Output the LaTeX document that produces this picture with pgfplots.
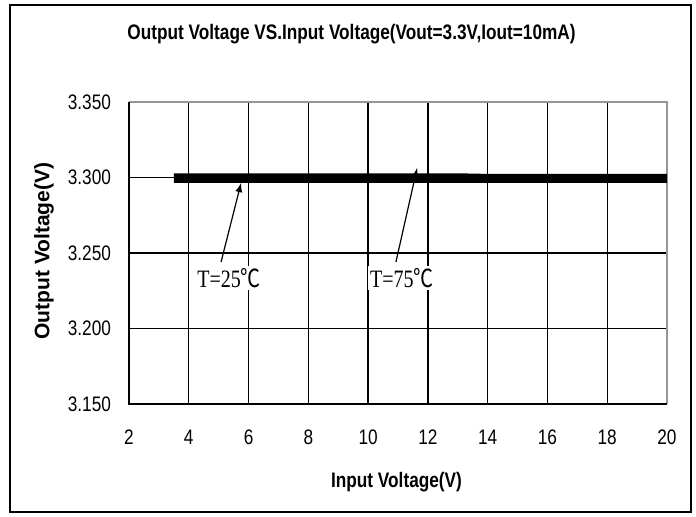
\documentclass[border=0pt]{standalone}
\usepackage{fontspec}
\setmainfont{Liberation Sans}
\newfontfamily\narrow[FakeStretch=0.82]{Liberation Sans}
\newfontfamily\serifl[FakeStretch=0.8]{Liberation Serif}
\newfontfamily\cjk[FakeStretch=0.8]{Noto Sans CJK SC}
\usepackage{pgfplots}
\pgfplotsset{compat=1.18}
\definecolor{bordergray}{RGB}{150,150,150}
\begin{document}
\begin{tikzpicture}[x=1pt,y=1pt]
\useasboundingbox (-64.5,-56.5) rectangle (283.5,202);
\draw[line width=1pt] (-59.5,-54) rectangle (281,199.5);
\begin{axis}[
  at={(0,0)}, anchor=origin,
  scale only axis, width=269pt, height=151pt,
  xmin=2, xmax=20, ymin=3.15, ymax=3.35,
  xtick={2,4,...,20}, ytick={3.15,3.2,3.25,3.3,3.35},
  y tick label style={/pgf/number format/fixed,/pgf/number format/fixed zerofill,/pgf/number format/precision=3, xshift=-5.5pt},
  /pgf/number format/assume math mode=true,
  ticklabel style={font=\narrow\fontsize{10.5}{11}\selectfont},
  x tick label style={yshift=-9.5pt},
  major tick length=0pt,
  grid=major, major grid style={black, line width=0.7pt},
  axis line style={draw=none},
  clip=false,
]
\draw[bordergray, line width=1.2pt] (axis cs:2,3.35) -- (axis cs:20,3.35) -- (axis cs:20,3.15);
\draw[black, line width=1pt] (axis cs:2,3.35) -- (axis cs:2,3.15) -- (axis cs:20,3.15);
\addplot[black, line width=4.5pt, line cap=butt] coordinates {(3.5,3.2994) (8,3.2994) (12,3.2994) (16,3.2994) (20,3.2994)};
\addplot[black, line width=4.5pt, line cap=butt] coordinates {(3.5,3.2998) (8,3.2998) (12,3.2998) (13,3.2998) (14,3.2994) (20,3.2994)};
\draw[-latex, line width=0.6pt] (axis cs:5.08,3.244) -- (axis cs:5.75,3.2964);
\draw[-latex, line width=0.6pt] (axis cs:10.93,3.244) -- (axis cs:11.64,3.3063);
\node[font=\serifl\fontsize{12.5}{13}\selectfont, fill=white, inner sep=1pt] at (axis cs:5.35,3.2335) {T=25{\cjk ℃}};
\node[font=\serifl\fontsize{12.5}{13}\selectfont, fill=white, inner sep=1pt] at (axis cs:11.13,3.2335) {T=75{\cjk ℃}};
\end{axis}
\node[font=\narrow\bfseries\fontsize{10.5}{11}\selectfont] at (111.25,185) {Output Voltage VS.Input Voltage(Vout=3.3V,Iout=10mA)};
\node[font=\narrow\bfseries\fontsize{10.5}{11}\selectfont] at (133.75,-39) {Input Voltage(V)};
\node[font=\bfseries\fontsize{10.5}{11}\selectfont, rotate=90] at (-42.5,76.5) {Output Voltage(V)};
\end{tikzpicture}
\end{document}
